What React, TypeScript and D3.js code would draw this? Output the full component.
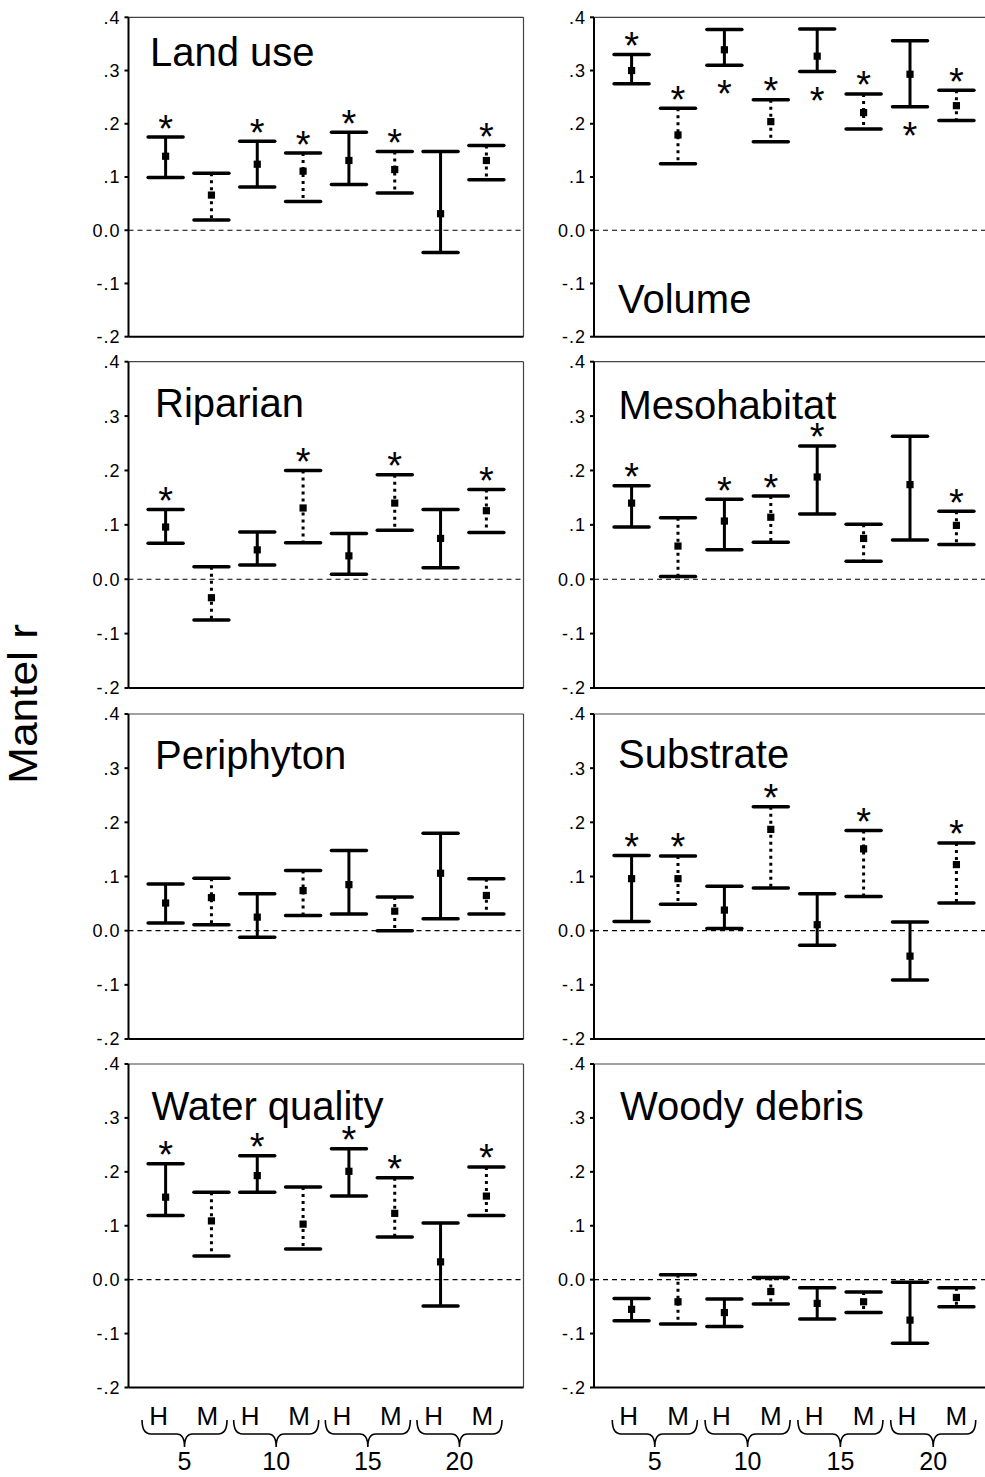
import React from "react";
import * as d3 from "d3";

const barLabels = ["H", "M", "H", "M", "H", "M", "H", "M"];
const groupLabels = ["5", "10", "15", "20"];
const yTicks = [0.4, 0.3, 0.2, 0.1, 0.0, -0.1, -0.2];
const yTickLabels = [".4", ".3", ".2", ".1", "0.0", "-.1", "-.2"];

const panelNames = ["Land use", "Volume", "Riparian", "Mesohabitat", "Periphyton", "Substrate", "Water quality", "Woody debris"];

const landUseHigh = [0.175, 0.107, 0.167, 0.145, 0.184, 0.148, 0.148, 0.159];
const landUseMean = [0.139, 0.066, 0.124, 0.111, 0.131, 0.114, 0.031, 0.131];
const landUseLow = [0.099, 0.019, 0.081, 0.054, 0.086, 0.07, -0.042, 0.095];
const landUseStars = [1, 0, 1, 1, 1, 1, 0, 1];

const volumeHigh = [0.33, 0.229, 0.377, 0.245, 0.378, 0.256, 0.356, 0.263];
const volumeMean = [0.3, 0.179, 0.339, 0.204, 0.327, 0.221, 0.293, 0.234];
const volumeLow = [0.275, 0.125, 0.31, 0.166, 0.298, 0.19, 0.232, 0.206];
const volumeStars = [1, 1, -1, 1, -1, 1, -1, 1];

const riparianHigh = [0.128, 0.023, 0.087, 0.2, 0.084, 0.192, 0.128, 0.165];
const riparianMean = [0.096, -0.034, 0.054, 0.131, 0.043, 0.14, 0.075, 0.126];
const riparianLow = [0.066, -0.075, 0.026, 0.067, 0.009, 0.09, 0.021, 0.086];
const riparianStars = [1, 0, 0, 1, 0, 1, 0, 1];

const mesoHigh = [0.172, 0.113, 0.147, 0.153, 0.245, 0.101, 0.263, 0.125];
const mesoMean = [0.14, 0.061, 0.107, 0.114, 0.188, 0.075, 0.174, 0.099];
const mesoLow = [0.096, 0.005, 0.054, 0.068, 0.12, 0.033, 0.072, 0.064];
const mesoStars = [1, 0, 1, 1, 1, 0, 0, 1];

const periHigh = [0.086, 0.097, 0.068, 0.111, 0.148, 0.062, 0.18, 0.096];
const periMean = [0.051, 0.061, 0.025, 0.074, 0.085, 0.036, 0.106, 0.065];
const periLow = [0.014, 0.011, -0.012, 0.028, 0.031, 0.0, 0.022, 0.031];
const periStars = [0, 0, 0, 0, 0, 0, 0, 0];

const subHigh = [0.139, 0.138, 0.082, 0.229, 0.068, 0.185, 0.016, 0.162];
const subMean = [0.096, 0.096, 0.038, 0.187, 0.011, 0.151, -0.047, 0.122];
const subLow = [0.017, 0.049, 0.004, 0.079, -0.027, 0.063, -0.091, 0.051];
const subStars = [1, 1, 0, 1, 0, 1, 0, 1];

const waterHigh = [0.215, 0.162, 0.23, 0.172, 0.243, 0.189, 0.105, 0.209];
const waterMean = [0.153, 0.109, 0.193, 0.103, 0.201, 0.123, 0.033, 0.155];
const waterLow = [0.119, 0.044, 0.162, 0.057, 0.155, 0.079, -0.049, 0.119];
const waterStars = [1, 0, 1, 0, 1, 1, 0, 1];

const woodyHigh = [-0.035, 0.009, -0.036, 0.004, -0.015, -0.023, -0.005, -0.015];
const woodyMean = [-0.055, -0.041, -0.061, -0.022, -0.044, -0.041, -0.075, -0.033];
const woodyLow = [-0.076, -0.082, -0.087, -0.045, -0.073, -0.061, -0.118, -0.05];
const woodyStars = [0, 0, 0, 0, 0, 0, 0, 0];

const panelData = [
  { high: landUseHigh, mean: landUseMean, low: landUseLow, stars: landUseStars },
  { high: volumeHigh, mean: volumeMean, low: volumeLow, stars: volumeStars },
  { high: riparianHigh, mean: riparianMean, low: riparianLow, stars: riparianStars },
  { high: mesoHigh, mean: mesoMean, low: mesoLow, stars: mesoStars },
  { high: periHigh, mean: periMean, low: periLow, stars: periStars },
  { high: subHigh, mean: subMean, low: subLow, stars: subStars },
  { high: waterHigh, mean: waterMean, low: waterLow, stars: waterStars },
  { high: woodyHigh, mean: woodyMean, low: woodyLow, stars: woodyStars },
];

// layout
const W = 985;
const H = 1477;
const FONT = "Arial, 'Liberation Sans', Helvetica, sans-serif";
const colX = [
  { x0: 128.5, x1: 523.5, labelShift: -5 },
  { x0: 594, x1: 994, labelShift: -1 },
];
const rowY = [
  { y0: 17.3, y1: 336.7 },
  { y0: 361.7, y1: 688 },
  { y0: 714, y1: 1039 },
  { y0: 1064, y1: 1387.5 },
];
// title offsets: [dx from axis, baseline from top]
const titlePos = [
  [21.5, 48.5],
  [24, 296],
  [26.5, 55],
  [24.5, 57.5],
  [26.5, 54.5],
  [24, 54],
  [23, 55.5],
  [26, 56],
];

const keys = barLabels.map((_, i) => String(i));

function Panel({ idx }: { idx: number }) {
  const col = idx % 2;
  const row = Math.floor(idx / 2);
  const { x0, x1 } = colX[col];
  const { y0, y1 } = rowY[row];
  const x = d3.scalePoint<string>().domain(keys).range([x0, x1]).padding(0.81);
  const y = d3.scaleLinear().domain([-0.2, 0.4]).range([y1, y0]);
  const d = panelData[idx];
  const capHalf = 17.5;
  return (
    <g>
      {/* frame */}
      <line x1={x0} x2={x1} y1={y0} y2={y0} stroke="#444" strokeWidth={1.2} />
      <line x1={x1} x2={x1} y1={y0} y2={y1} stroke="#444" strokeWidth={1.2} />
      <line x1={x0} x2={x1} y1={y1} y2={y1} stroke="#000" strokeWidth={2} />
      <line x1={x0} x2={x0} y1={y0} y2={y1} stroke="#000" strokeWidth={2} />
      {yTicks.map((t, i) => (
        <g key={i}>
          <line x1={x0 - 4} x2={x0} y1={y(t)} y2={y(t)} stroke="#000" strokeWidth={2} />
          <text x={x0 - 8} y={y(t)} dy="0.36em" textAnchor="end" fontSize={18} fontFamily={FONT} letterSpacing={1}>
            {yTickLabels[i]}
          </text>
        </g>
      ))}
      <line x1={x0} x2={x1} y1={y(0)} y2={y(0)} stroke="#000" strokeWidth={1.1} strokeDasharray="5 4" />
      <text x={x0 + titlePos[idx][0]} y={y0 + titlePos[idx][1]} fontSize={40} fontFamily={FONT}>
        {panelNames[idx]}
      </text>
      {keys.map((k, i) => {
        const cx = x(k) as number;
        const isM = barLabels[i] === "M";
        const yh = y(d.high[i]);
        const yl = y(d.low[i]);
        const ym = y(d.mean[i]);
        return (
          <g key={k}>
            <line x1={cx} x2={cx} y1={yh} y2={yl} stroke="#000" strokeWidth={3} strokeDasharray={isM ? "3 4" : undefined} />
            <line x1={cx - capHalf} x2={cx + capHalf} y1={yh} y2={yh} stroke="#000" strokeWidth={3.5} strokeLinecap="round" />
            <line x1={cx - capHalf} x2={cx + capHalf} y1={yl} y2={yl} stroke="#000" strokeWidth={3.5} strokeLinecap="round" />
            <rect x={cx - 3.6} y={ym - 3.6} width={7.2} height={7.2} fill="#000" />
            {d.stars[i] !== 0 && (
              <text
                x={cx}
                y={d.stars[i] > 0 ? yh + 4.5 : yl + 42}
                textAnchor="middle"
                fontSize={38}
                fontFamily={FONT}
              >
                *
              </text>
            )}
          </g>
        );
      })}
    </g>
  );
}

function BottomAxis({ col }: { col: number }) {
  const { x0, x1, labelShift } = colX[col];
  const x = d3.scalePoint<string>().domain(keys).range([x0, x1]).padding(0.81);
  const yLab = 1425;
  const yTop = 1420;
  const yMid = 1434;
  const yTip = 1447;
  return (
    <g>
      {keys.map((k, i) => (
        <text
          key={k}
          x={(x(k) as number) + labelShift + (barLabels[i] === "H" ? -2 : 1)}
          y={yLab}
          textAnchor="middle"
          fontSize={26}
          fontFamily={FONT}
        >
          {barLabels[i]}
        </text>
      ))}
      {groupLabels.map((g, gi) => {
        const xa = x(keys[gi * 2]) as number;
        const xb = x(keys[gi * 2 + 1]) as number;
        const c = (xa + xb) / 2 + labelShift + 1;
        const half = 42.5;
        const L = c - half;
        const R = c + half;
        const p = d3.path();
        p.moveTo(L, yTop);
        p.quadraticCurveTo(L, yMid, L + 9, yMid);
        p.lineTo(c - 8, yMid);
        p.quadraticCurveTo(c, yMid, c, yTip);
        p.quadraticCurveTo(c, yMid, c + 8, yMid);
        p.lineTo(R - 9, yMid);
        p.quadraticCurveTo(R, yMid, R, yTop);
        return (
          <g key={g}>
            <path d={p.toString()} fill="none" stroke="#000" strokeWidth={1.6} />
            <text x={c} y={1470} textAnchor="middle" fontSize={25} fontFamily={FONT}>
              {g}
            </text>
          </g>
        );
      })}
    </g>
  );
}

export default function App() {
  return (
    <div style={{ position: "absolute", left: 0, top: 0, width: W, height: H, background: "#fff" }}>
      <svg width={W} height={H} viewBox={`0 0 ${W} ${H}`} style={{ display: "block" }}>
        <rect x={0} y={0} width={W} height={H} fill="#fff" />
        {panelNames.map((_, i) => (
          <Panel key={i} idx={i} />
        ))}
        <BottomAxis col={0} />
        <BottomAxis col={1} />
        <text
          transform="translate(37,704) rotate(-90)"
          textAnchor="middle"
          fontSize={40}
          textLength={160}
          lengthAdjust="spacingAndGlyphs"
          fontFamily={FONT}
        >
          Mantel r
        </text>
      </svg>
    </div>
  );
}
